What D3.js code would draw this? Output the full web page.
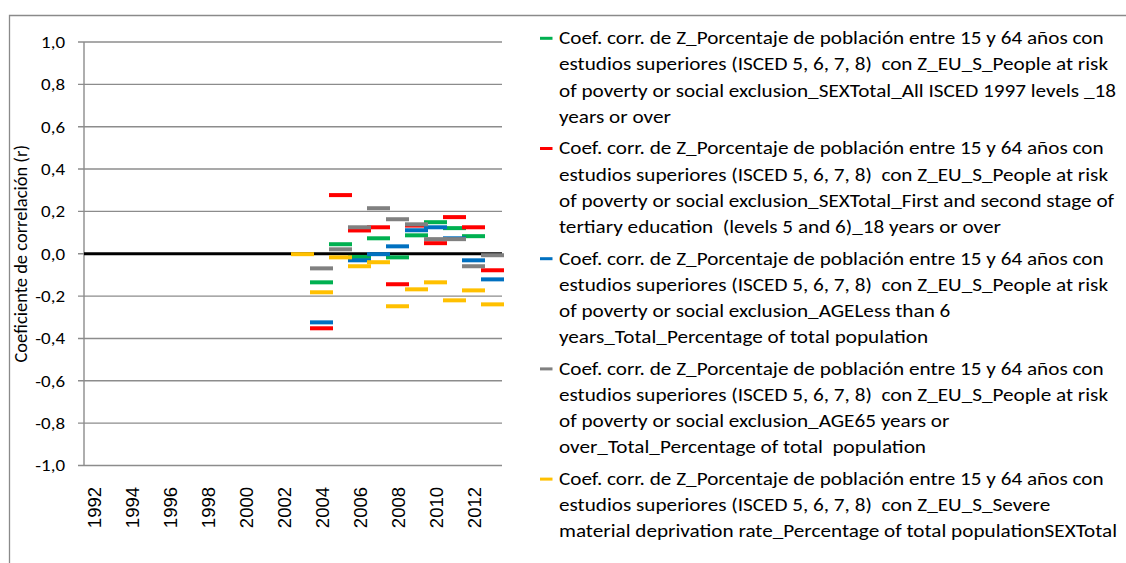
<!DOCTYPE html>
<html>
<head>
<meta charset="utf-8">
<script src="https://cdn.jsdelivr.net/npm/d3@7"></script>
<style>
  body { margin: 0; background: #fff; }
  svg { display: block; font-family: Carlito, Lato, "Liberation Sans", sans-serif; }
</style>
</head>
<body>
<div id="chart"></div>
<script>
// Años (categorías del eje X)
var years = [1992, 1993, 1994, 1995, 1996, 1997, 1998, 1999, 2000, 2001, 2002,
             2003, 2004, 2005, 2006, 2007, 2008, 2009, 2010, 2011, 2012, 2013];
var yearLabels = ["1992", "1994", "1996", "1998", "2000", "2002", "2004", "2006", "2008", "2010", "2012"];
var yTicks = [1.0, 0.8, 0.6, 0.4, 0.2, 0.0, -0.2, -0.4, -0.6, -0.8, -1.0];

// Coeficientes por serie (1992..2013), null = sin dato
var serieTodos = [null, null, null, null, null, null, null, null, null, null, null,
                  null, -0.135, 0.045, -0.015, 0.073, -0.017, 0.087, 0.149, 0.121, 0.083, null];
var serieTerciaria = [null, null, null, null, null, null, null, null, null, null, null,
                      null, -0.352, 0.277, 0.110, 0.125, -0.144, 0.133, 0.050, 0.173, 0.125, -0.078];
var serieMenos6 = [null, null, null, null, null, null, null, null, null, null, null,
                   null, -0.324, null, -0.031, -0.002, 0.035, 0.111, 0.125, 0.073, -0.031, -0.121];
var serie65 = [null, null, null, null, null, null, null, null, null, null, null,
               null, -0.069, 0.021, 0.125, 0.215, 0.163, 0.139, 0.069, 0.069, -0.059, -0.007];
var serieDeprivacion = [null, null, null, null, null, null, null, null, null, null, null,
                        -0.002, -0.182, -0.017, -0.059, -0.040, -0.248, -0.168, -0.135, -0.220, -0.173, -0.239];

var pre = "Coef. corr. de Z_Porcentaje de población entre 15 y 64 años con";
var pre2 = "estudios superiores (ISCED 5, 6, 7, 8)  con Z_EU_S_People at risk";
var series = [
    {color: "#00b050", values: serieTodos,
     label: [pre, pre2, "of poverty or social exclusion_SEXTotal_All ISCED 1997 levels _18", "years or over"]},
    {color: "#ff0000", values: serieTerciaria,
     label: [pre, pre2, "of poverty or social exclusion_SEXTotal_First and second stage of", "tertiary education  (levels 5 and 6)_18 years or over"]},
    {color: "#0070c0", values: serieMenos6,
     label: [pre, pre2, "of poverty or social exclusion_AGELess than 6", "years_Total_Percentage of total population"]},
    {color: "#808080", values: serie65,
     label: [pre, pre2, "of poverty or social exclusion_AGE65 years or", "over_Total_Percentage of total  population"]},
    {color: "#ffc000", values: serieDeprivacion,
     label: [pre, "estudios superiores (ISCED 5, 6, 7, 8)  con Z_EU_S_Severe", "material deprivation rate_Percentage of total populationSEXTotal"]}
];

var W = 1126, H = 563;
var svg = d3.select("#chart").append("svg")
    .attr("width", W)
    .attr("height", H);

// Marco del área del gráfico
svg.append("path")
    .attr("d", "M9.5," + H + "V15.5H" + W)
    .attr("fill", "none")
    .attr("stroke", "#8a8a8a")
    .attr("stroke-width", 1.3);

var x = d3.scaleBand()
    .domain(years)
    .range([84, 502])
    .padding(0);

var y = d3.scaleLinear()
    .domain([-1, 1])
    .range([465.5, 42]);

// Líneas de cuadrícula
svg.append("g").selectAll("line")
    .data(yTicks)
    .enter().append("line")
    .attr("x1", 78)
    .attr("x2", 502)
    .attr("y1", d => y(d))
    .attr("y2", d => y(d))
    .attr("stroke", "#8c8c8c")
    .attr("stroke-width", 1.4);

// Eje vertical
svg.append("line")
    .attr("x1", 84).attr("x2", 84)
    .attr("y1", y(1)).attr("y2", y(-1))
    .attr("stroke", "#8c8c8c")
    .attr("stroke-width", 1.4);

// Etiquetas eje Y (texto algo ensanchado, como en el original)
svg.append("g").selectAll("text")
    .data(yTicks)
    .enter().append("text")
    .attr("transform", d => "translate(65," + y(d) + ") scale(1.15,1)")
    .attr("dy", "0.36em")
    .attr("text-anchor", "end")
    .attr("font-size", 16.5)
    .attr("fill", "#000")
    .text(d => d3.format(".1f")(d).replace(".", ",").replace("−", "-"));

// Título eje Y
svg.append("text")
    .attr("transform", "translate(21," + y(0) + ") rotate(-90)")
    .attr("dy", "0.35em")
    .attr("text-anchor", "middle")
    .attr("font-size", 18.5)
    .text("Coeficiente de correlación (r)");

// Etiquetas eje X
svg.append("g").selectAll("text")
    .data(yearLabels)
    .enter().append("text")
    .attr("transform", d => "translate(" + (x(+d) + x.bandwidth() / 2 + 1) + ",487) rotate(-90)")
    .attr("dy", "0.35em")
    .attr("text-anchor", "end")
    .attr("font-family", "Liberation Sans, Arial, sans-serif")
    .attr("font-size", 18.5)
    .text(d => d);

// Línea de cero (eje horizontal)
svg.append("line")
    .attr("x1", 84).attr("x2", 502)
    .attr("y1", y(0)).attr("y2", y(0))
    .attr("stroke", "#000")
    .attr("stroke-width", 3);

// Marcadores tipo guion
var mw = 23, mh = 4;
series.forEach(function(s) {
    var pts = years.map((yr, i) => ({year: yr, value: s.values[i]}))
        .filter(d => d.value !== null);
    svg.append("g").selectAll("rect")
        .data(pts)
        .enter().append("rect")
        .attr("x", d => x(d.year) + x.bandwidth() / 2 - mw / 2)
        .attr("y", d => y(d.value) - mh / 2)
        .attr("width", mw)
        .attr("height", mh)
        .attr("fill", s.color);
});

// Leyenda
var legend = svg.append("g");
var legendTexts = [];
series.forEach(function(s, i) {
    var top = 38.3 + i * 110.2;
    legend.append("rect")
        .attr("x", 540)
        .attr("y", top - 1.5)
        .attr("width", 12.5)
        .attr("height", 3)
        .attr("fill", s.color);
    s.label.forEach(function(line, j) {
        var t = legend.append("text")
            .attr("data-y", top + j * 26.2)
            .attr("dy", "0.34em")
            .attr("font-size", 17.5)
            .attr("fill", "#000")
            .style("white-space", "pre")
            .text(line);
        legendTexts.push(t);
    });
});
// ancho horizontal ajustado a la primera línea del original (559 → 1104)
var sx = 545 / legendTexts[0].node().getComputedTextLength();
legendTexts.forEach(function(t) {
    t.attr("transform", "translate(559," + t.attr("data-y") + ") scale(" + sx + ",1)");
});
</script>
</body>
</html>
